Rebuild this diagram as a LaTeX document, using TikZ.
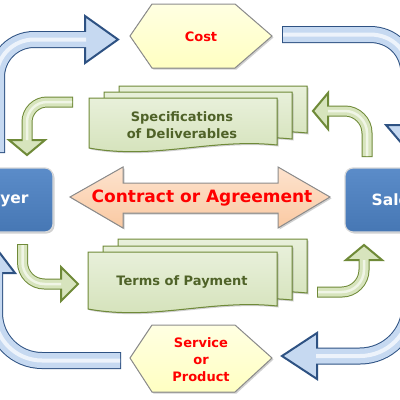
\documentclass[tikz,border=0pt]{standalone}
\usepackage{fontspec}
\newfontfamily\dv{DejaVu Sans}
\usetikzlibrary{shadows}
\definecolor{bluedark}{HTML}{2E5283}
\definecolor{bluefill}{HTML}{C6D9F1}
\definecolor{bluehi}{HTML}{EDF3FB}
\definecolor{grnbd}{HTML}{6F8A38}
\definecolor{grnfill}{HTML}{D7E4BD}
\definecolor{grnhi}{HTML}{F0F5E6}
\definecolor{grntext}{HTML}{4F6228}
\definecolor{hexfill}{HTML}{FFFFCC}
\definecolor{peach}{HTML}{FBD4B4}
\definecolor{boxblue}{HTML}{4F81BD}
\definecolor{shapebd}{HTML}{8C8C8C}
\definecolor{redtext}{HTML}{FF0000}
\newcommand\DocSheet[4]{%
  \filldraw[docsheet] (#1,#2) -- ({#1+#3},#2) -- ({#1+#3},{#2+#4-3})
    .. controls ({#1+0.65*#3},{#2+#4-10}) and ({#1+0.35*#3},{#2+#4+12}) .. (#1,{#2+#4}) -- cycle;}
\tikzset{
  softshadow/.style={drop shadow={opacity=0.3,shadow xshift=1.5pt,shadow yshift=-1.5pt,fill=black!60}},
  docsheet/.style={top color=HTML-E8F0DA,bottom color=HTML-D3E1B8,draw=grnbd,line width=1pt,softshadow},
  bbd/.style={draw=bluedark,line width=17pt,line cap=butt},
  bfl/.style={draw=bluefill,line width=15pt,line cap=butt},
  bhl/.style={draw=bluehi,line width=4pt,line cap=butt},
  bhead/.style={draw=bluedark,fill=bluefill,line width=2pt,line join=miter},
  gbd/.style={draw=grnbd,line width=11pt,line cap=butt},
  gfl/.style={draw=grnfill,line width=9pt,line cap=butt},
  ghl/.style={draw=grnhi,line width=2.5pt,line cap=butt},
  ghead/.style={draw=grnbd,fill=grnfill,line width=2pt,line join=miter},
  hexa/.style={top color=HTML-FFFFE2,bottom color=HTML-FFFFC2,draw=shapebd,line width=1pt,softshadow},
  redlbl/.style={text=redtext,font=\dv\bfseries\fontsize{13}{17}\selectfont,align=center,inner sep=0pt},
  grnlbl/.style={text=grntext,font=\dv\bfseries\fontsize{13}{16.5}\selectfont,align=center,inner sep=0pt},
  bluebox/.style={top color=HTML-5B8CC9,bottom color=HTML-4677B4,draw=black!15,line width=1.2pt,rounded corners=8pt,
    minimum width=100pt,minimum height=64pt,text=white,font=\dv\bfseries\fontsize{15.5}{18}\selectfont,softshadow},
}
\definecolor{HTML-E8F0DA}{HTML}{E8F0DA}
\definecolor{HTML-D3E1B8}{HTML}{D3E1B8}
\definecolor{HTML-FFFFE2}{HTML}{FFFFE2}
\definecolor{HTML-FFFFC2}{HTML}{FFFFC2}
\definecolor{HTML-5B8CC9}{HTML}{5B8CC9}
\definecolor{HTML-4677B4}{HTML}{4677B4}
\definecolor{HTML-FDE3CE}{HTML}{FDE3CE}
\definecolor{HTML-FAC9A2}{HTML}{FAC9A2}
\begin{document}
\begin{tikzpicture}[x=1pt,y=-1pt]
\useasboundingbox (0,0) rectangle (400,400);
\fill[white] (0,0) rectangle (400,400);
\clip (0,0) rectangle (400,400);

% ---- blue arrows ----
% top-left
\draw[bbd] (-3.5,153) -- (-3.5,77) .. controls (-3.5,56.3) and (13.3,39.5) .. (34,39.5) -- (86,39.5);
\draw[bhead] (85,16) -- (118,39.5) -- (85,63) -- cycle;
\draw[bfl] (-3.5,152) -- (-3.5,77) .. controls (-3.5,56.3) and (13.3,39.5) .. (34,39.5) -- (88,39.5);
\draw[bhl] (-3.5,152) -- (-3.5,77) .. controls (-3.5,56.3) and (13.3,39.5) .. (34,39.5) -- (86,39.5);
% top-right
\draw[bbd] (282,34.5) -- (370,34.5) .. controls (392.4,34.5) and (409,51) .. (409,74) -- (409,126);
\draw[bhead] (386,125) -- (409,152) -- (432,125) -- cycle;
\draw[bfl] (283,34.5) -- (370,34.5) .. controls (392.4,34.5) and (409,51) .. (409,74) -- (409,128);
\draw[bhl] (283,34.5) -- (370,34.5) .. controls (392.4,34.5) and (409,51) .. (409,74) -- (409,126);
% bottom-right
\draw[bbd] (410,250) -- (410,306) .. controls (410,333.6) and (387.6,356) .. (360,356) -- (316,356);
\draw[bhead] (317,333) -- (282,356) -- (317,379) -- cycle;
\draw[bfl] (410,250) -- (410,306) .. controls (410,333.6) and (387.6,356) .. (360,356) -- (314,356);
\draw[bhl] (410,250) -- (410,306) .. controls (410,333.6) and (387.6,356) .. (360,356) -- (316,356);
% bottom-left
\draw[bbd] (121,360.5) -- (42,360.5) .. controls (15.8,360.5) and (-5.5,339.2) .. (-5.5,313) -- (-5.5,272);
\draw[bhead] (-26,273) -- (-5.5,246) -- (15,273) -- cycle;
\draw[bfl] (120,360.5) -- (42,360.5) .. controls (15.8,360.5) and (-5.5,339.2) .. (-5.5,313) -- (-5.5,270);
\draw[bhl] (120,360.5) -- (42,360.5) .. controls (15.8,360.5) and (-5.5,339.2) .. (-5.5,313) -- (-5.5,272);

% ---- hexagons ----
\filldraw[hexa] (130,36) -- (152,4) -- (235,4) -- (272,36) -- (235,68) -- (152,68) -- cycle;
\node[redlbl] (cost) at (201,37) {Cost};
\filldraw[hexa] (130,358) -- (152,325) -- (235,325) -- (272,358) -- (235,392) -- (152,392) -- cycle;
\node[redlbl] (service) at (201,360) {Service\\or\\Product};

% ---- documents ----
\DocSheet{119}{86}{188}{50}
\DocSheet{104}{92}{188}{50}
\DocSheet{89}{98}{188}{50}
\node[grnlbl] (spec) at (182,125) {Specifications\\of Deliverables};
\DocSheet{118}{239}{189}{57}
\DocSheet{103}{246}{189}{57}
\DocSheet{88}{252}{189}{57}
\node[grnlbl] (terms) at (182,282) {Terms of Payment};

% ---- boxes ----
\node[bluebox] (buyer) at (3,200) {Buyer};
\node[bluebox] (sales) at (395,200) {Sales};

% ---- contract double arrow ----
\filldraw[top color=HTML-FDE3CE,bottom color=HTML-FAC9A2,draw=shapebd,line width=1pt,line join=miter,softshadow]
  (70,197) -- (123,167) -- (123,183) -- (278,183) -- (278,167) -- (330,197)
  -- (278,228) -- (278,213) -- (123,213) -- (123,228) -- cycle;
\node[redlbl,font=\dv\bfseries\fontsize{17}{19}\selectfont] (contract) at (202,198) {Contract or Agreement};

% ---- green arrows ----
% top-left
\draw[gbd] (73,102) -- (47,102) .. controls (36,102) and (27,111) .. (27,122) -- (27,141);
\draw[ghead] (9,140) -- (27,155) -- (45,140) -- cycle;
\draw[gfl] (72,102) -- (47,102) .. controls (36,102) and (27,111) .. (27,122) -- (27,143);
\draw[ghl] (72,102) -- (47,102) .. controls (36,102) and (27,111) .. (27,122) -- (27,140);
% top-right
\draw[gbd] (367,157) -- (367,133) .. controls (367,121) and (357,111) .. (345,111) -- (327,111);
\draw[ghead] (328,93) -- (313,111) -- (328,129) -- cycle;
\draw[gfl] (367,156) -- (367,133) .. controls (367,121) and (357,111) .. (345,111) -- (325,111);
\draw[ghl] (367,156) -- (367,133) .. controls (367,121) and (357,111) .. (345,111) -- (328,111);
% bottom-left
\draw[gbd] (22.5,244) -- (22.5,262) .. controls (22.5,274) and (32,284) .. (44.5,284) -- (62,284);
\draw[ghead] (61,267) -- (78,284) -- (61,301) -- cycle;
\draw[gfl] (22.5,245) -- (22.5,262) .. controls (22.5,274) and (32,284) .. (44.5,284) -- (64,284);
\draw[ghl] (22.5,245) -- (22.5,262) .. controls (22.5,274) and (32,284) .. (44.5,284) -- (61,284);
% bottom-right
\draw[gbd] (317,292) -- (342,292) .. controls (354,292) and (364,282) .. (364,270) -- (364,259);
\draw[ghead] (346,260) -- (364,245) -- (382,260) -- cycle;
\draw[gfl] (318,292) -- (342,292) .. controls (354,292) and (364,282) .. (364,270) -- (364,257);
\draw[ghl] (318,292) -- (342,292) .. controls (354,292) and (364,282) .. (364,270) -- (364,260);
\end{tikzpicture}
\end{document}
